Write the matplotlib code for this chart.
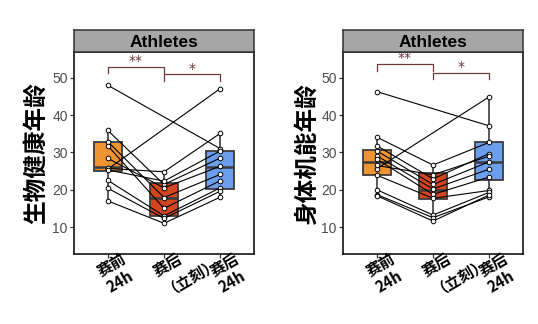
import numpy as np
import matplotlib
matplotlib.use("Agg")
import matplotlib.pyplot as plt
from matplotlib.transforms import ScaledTranslation

# ---------------- data ----------------
groups = ["赛前\n24h", "赛后\n（立刻）", "赛后\n24h"]
panel_title = "Athletes"
ylabels = ["生物健康年龄", "身体机能年龄"]
yticks = [10, 20, 30, 40, 50]

nan = np.nan
# left panel: per-subject values (pre 24h, immediately after, post 24h)
pre_L = [48.0, 25.5, 35.9, 32.9, 31.8, 28.4, 25.7, 25.3, 22.5, 20.4, 17.0]
imm_L = [nan, nan, 21.4, 17.9, 15.0, 20.5, 24.8, 22.3, 13.0, 12.3, 11.0]
post_L = [31.0, 47.1, 28.5, 24.1, 22.4, 26.3, 35.1, 30.4, 20.5, 19.6, 18.0]
# box statistics: (whislo, q1, med, q3, whishi)
box_L = [(17.0, 24.9, 26.0, 32.9, 35.9),
         (11.0, 13.0, 17.8, 21.8, 24.8),
         (18.0, 20.3, 26.2, 30.4, 35.2)]

# right panel
pre_R = [46.3, 25.6, 34.1, 31.8, 30.4, 29.1, 28.2, 26.5, 23.9, 20.0, 18.7, 18.4]
imm_R = [nan, nan, 26.6, 22.9, 21.4, 20.2, 18.75, 24.0, 17.7, 13.2, 12.5, 11.6]
post_R = [37.1, 44.9, 32.7, 29.7, 27.5, 25.5, 23.4, 29.0, 19.8, 19.3, 18.1, 18.6]
box_R = [(18.4, 23.9, 27.3, 30.6, 34.1),
         (11.6, 17.6, 20.0, 24.6, 26.6),
         (18.1, 22.6, 27.3, 32.9, 44.9)]

# significance brackets: (x1, x2, y bar, y tick end, label)
sig_L = [(1, 2, 52.9, 51.3, "**"), (2, 3, 50.9, 49.1, "*")]
sig_R = [(1, 2, 53.6, 51.8, "**"), (2, 3, 51.2, 49.6, "*")]

box_colors = ["#EE9433", "#D2461F", "#6C9EEE"]
sig_color = "#6B3B3B"

CJK = ["Noto Sans CJK SC", "DejaVu Sans"]

fig = plt.figure(figsize=(5.38, 3.24), dpi=100)
W, H = 538, 324

def px_axes(l, t, r, b):
    return fig.add_axes([l / W, 1 - b / H, (r - l) / W, (b - t) / H])

panels = [
    (74, 254, pre_L, imm_L, post_L, box_L, sig_L, ylabels[0]),
    (343, 523, pre_R, imm_R, post_R, box_R, sig_R, ylabels[1]),
]

for (l, r, pre, imm, post, boxes, sigs, ylab) in panels:
    ax = px_axes(l, 52, r, 254)
    sax = px_axes(l, 30, r, 52)

    # strip
    sax.set_facecolor("#A6A6A6")
    sax.set_xticks([]); sax.set_yticks([])
    for s in sax.spines.values():
        s.set_linewidth(1.1); s.set_color("#333333")
    sax.text(0.5, 0.45, panel_title, transform=sax.transAxes, ha="center",
             va="center", fontsize=12.5, fontweight="bold",
             family="Liberation Sans", color="black")

    x = np.arange(1, len(groups) + 1)
    stats = []
    for (wl, q1, md, q3, wh) in boxes:
        stats.append(dict(whislo=wl, q1=q1, med=md, q3=q3, whishi=wh, fliers=[]))
    bp = ax.bxp(stats, positions=x, widths=0.5, patch_artist=True,
                showfliers=False, showcaps=False,
                boxprops=dict(edgecolor="#3C3C3C", linewidth=1.3),
                whiskerprops=dict(color="#3C3C3C", linewidth=1.2),
                medianprops=dict(color="#3C3C3C", linewidth=1.8))
    for patch, c in zip(bp["boxes"], box_colors):
        patch.set_facecolor(c)
    for art in bp["boxes"] + bp["whiskers"] + bp["medians"]:
        art.set_zorder(1)

    # subject lines and points
    for a, b, c in zip(pre, imm, post):
        vals = np.array([a, b, c], dtype=float)
        m = ~np.isnan(vals)
        ax.plot(x[m], vals[m], color="black", linewidth=0.8, zorder=2)
        ax.scatter(x[m], vals[m], s=11, facecolor="white", edgecolor="black",
                   linewidth=0.7, zorder=3)

    # significance brackets
    for (x1, x2, yb, yt, lab) in sigs:
        ax.plot([x1, x1, x2, x2], [yt, yb, yb, yt], color=sig_color,
                linewidth=0.9, zorder=2)
        ax.text((x1 + x2) / 2, yb - 0.3, lab, ha="center", va="bottom",
                fontsize=10, color=sig_color, family="DejaVu Sans")

    ax.set_xlim(0.4, 3.6)
    ax.set_ylim(2.77, 56.9)
    ax.set_yticks(yticks)
    ax.set_yticklabels([str(v) for v in yticks], fontsize=10,
                       family="Liberation Sans", color="#4D4D4D")
    ax.set_xticks(x)
    ax.set_xticklabels([])
    ax.tick_params(axis="both", direction="out", length=3, width=0.9,
                   color="#333333", pad=1.5)
    for s in ax.spines.values():
        s.set_linewidth(1.1); s.set_color("black")
    ax.set_ylabel(ylab, family=CJK, fontsize=17, fontweight="bold",
                  labelpad=2)

    off = ScaledTranslation(-13 / 100, -12 / 100, fig.dpi_scale_trans)
    for xi, g in zip(x, groups):
        ax.text(xi, 0, g, transform=ax.get_xaxis_transform() + off,
                rotation=30, rotation_mode="anchor", ha="left", va="top",
                multialignment="left", family=CJK, fontsize=11,
                fontweight="bold", linespacing=1.15)

fig.savefig("out.png", dpi=100)
